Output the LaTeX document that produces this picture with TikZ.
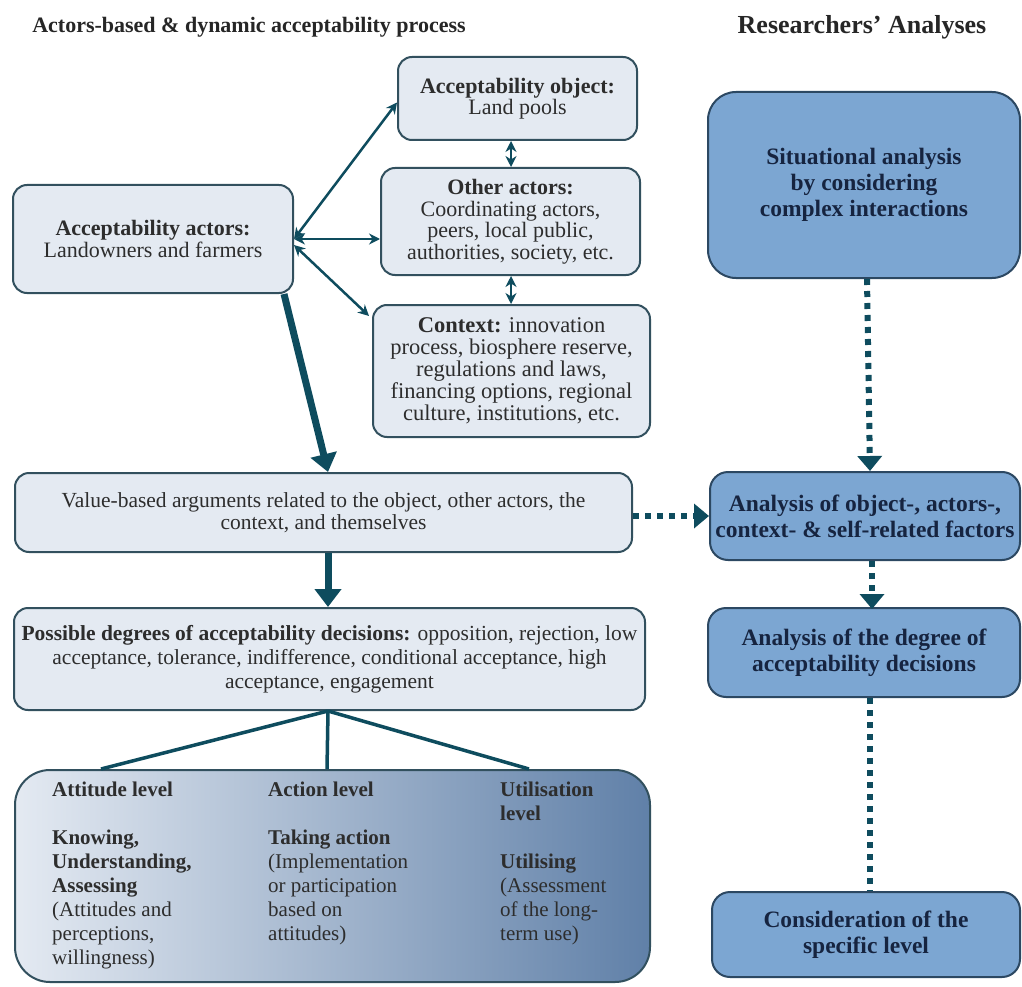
\documentclass[tikz,border=0pt]{standalone}
\usepackage{fontspec}
\setmainfont{Liberation Serif}
\usetikzlibrary{arrows.meta,calc}
\definecolor{lfill}{RGB}{228,234,242}
\definecolor{lborder}{RGB}{50,80,94}
\definecolor{arrowc}{RGB}{14,76,94}
\definecolor{rfill}{RGB}{124,166,210}
\definecolor{rborder}{RGB}{44,72,98}
\definecolor{rtext}{RGB}{22,36,64}
\definecolor{gleft}{RGB}{228,234,242}
\definecolor{gright}{RGB}{96,128,168}
\definecolor{textc}{RGB}{45,45,45}
\begin{document}
\begin{tikzpicture}[x=1pt,y=-1pt,
  lbox/.style={draw=lborder, line width=2pt, fill=lfill, rounded corners=14pt, inner sep=0pt, align=center, text=textc, font=\fontsize{22}{21.5}\selectfont},
  lwide/.style={lbox, font=\fontsize{21.5}{22.5}\selectfont},
  rbox/.style={draw=rborder, line width=2pt, fill=rfill, rounded corners=18pt, inner sep=0pt, align=center, text=rtext, font=\bfseries\fontsize{23.5}{26}\selectfont},
  titlestyle/.style={font=\bfseries\fontsize{22}{24}\selectfont, text=black!85, inner sep=0pt},
  coltext/.style={anchor=north west, inner sep=0pt, align=left, text=textc, font=\fontsize{21}{24}\selectfont},
  thinarr/.style={draw=arrowc, line width=2.5pt, {Stealth[length=11pt,width=11pt]}-{Stealth[length=11pt,width=11pt]}},
  thickarr/.style={draw=arrowc, line width=7pt, -{Triangle[length=18pt,width=26pt]}},
  branch/.style={draw=arrowc, line width=3.5pt},
  dotarr/.style={draw=arrowc, line width=6pt, dash pattern=on 6pt off 6pt, -{Triangle[length=15pt,width=24pt]}},
  dotline/.style={draw=arrowc, line width=6pt, dash pattern=on 6pt off 6pt}
]
\useasboundingbox (0,0) rectangle (1022,987);
\fill[white] (0,0) rectangle (1022,987);

% titles
\node[titlestyle] (t1) at (249,27) {Actors-based \& dynamic acceptability process};
\node[titlestyle, font=\bfseries\fontsize{26}{28}\selectfont] (t2) at (862,27) {Researchers’ Analyses};

% left column boxes
\node[lbox, minimum width=280pt, minimum height=108pt] (act) at (153,239)
  {\textbf{Acceptability actors:}\\Landowners and farmers};
\node[lbox, minimum width=239pt, minimum height=83pt] (obj) at (517.5,98.5)
  {\textbf{Acceptability object:}\\Land pools};
\node[lbox, minimum width=259pt, minimum height=107pt] (oth) at (510.5,221.5)
  {\textbf{Other actors:}\\Coordinating actors,\\peers, local public,\\authorities, society, etc.};
\node[lbox, minimum width=277pt, minimum height=132pt, font=\fontsize{22.5}{22}\selectfont] (ctx) at (511.5,371)
  {\textbf{Context:} innovation\\process, biosphere reserve,\\regulations and laws,\\financing options, regional\\culture, institutions, etc.};
\node[lwide, minimum width=617pt, minimum height=79pt] (val) at (323.5,512.5)
  {Value-based arguments related to the object, other actors, the\\context, and themselves};
\node[lwide, minimum width=631pt, minimum height=102pt, font=\fontsize{21.5}{24}\selectfont] (poss) at (329.5,659)
  {\textbf{Possible degrees of acceptability decisions:} opposition, rejection, low\\acceptance, tolerance, indifference, conditional acceptance, high\\acceptance, engagement};

% gradient box
\node[draw=lborder, line width=2pt, rounded corners=35pt, left color=gleft, right color=gright,
  minimum width=635pt, minimum height=212pt, inner sep=0pt] (grad) at (332.5,876) {};
\node[coltext] (c1) at (52,782)
  {\textbf{Attitude level}\\~\\\textbf{Knowing,}\\\textbf{Understanding,}\\\textbf{Assessing}\\(Attitudes and\\perceptions,\\willingness)};
\node[coltext] (c2) at (268,782)
  {\textbf{Action level}\\~\\\textbf{Taking action}\\(Implementation\\or participation\\based on\\attitudes)};
\node[coltext] (c3) at (500,782)
  {\textbf{Utilisation}\\\textbf{level}\\~\\\textbf{Utilising}\\(Assessment\\of the long-\\term use)};

% right column boxes
\node[rbox, rounded corners=28pt, minimum width=312pt, minimum height=186pt] (sit) at (864,185)
  {Situational analysis\\by considering\\complex interactions};
\node[rbox, minimum width=310pt, minimum height=88pt] (an1) at (865,516)
  {Analysis of object-, actors-,\\context- \& self-related factors};
\node[rbox, minimum width=312pt, minimum height=89pt] (an2) at (864,652.5)
  {Analysis of the degree of\\acceptability decisions};
\node[rbox, minimum width=308pt, minimum height=85pt] (cons) at (866,934.5)
  {Consideration of the\\specific level};

% thin double arrows
\draw[thinarr] (act.east) -- ($(obj.west)+(0,4)$);
\draw[thinarr] (act.east) -- (act.east -| oth.west);
\draw[thinarr] ($(act.east)+(0,6)$) -- ($(ctx.north west)+(-3,12)$);
\draw[thinarr] ($(obj.south)+(-6.5,0)$) -- ($(oth.north)+(0.5,0)$);
\draw[thinarr] ($(oth.south)+(0.5,0)$) -- ($(ctx.north)+(-0.5,0)$);

% thick arrows
\draw[thickarr] ($(act.south east)+(-10,0)$) -- ($(val.north)+(4.5,0)$);
\draw[thickarr] ($(val.south)+(4.5,0)$) -- ($(poss.north)+(-1.5,0)$);

% branches
\draw[branch] ($(poss.south)+(-1.5,0)$) -- ($(grad.north west)+(87,0)$);
\draw[branch] ($(poss.south)+(-1.5,0)$) -- ($(grad.north west)+(313,0)$);
\draw[branch] ($(poss.south)+(-1.5,0)$) -- ($(grad.north west)+(515,0)$);

% dotted connectors
\draw[dotarr] (val.east |- an1.west) -- (an1.west);
\draw[dotarr] ($(sit.south)+(3,0)$) -- ($(an1.north)+(5,0)$);
\draw[dotarr] ($(an1.south)+(7,0)$) -- ($(an1.south)+(7,48)$);
\draw[dotline] ($(an2.south)+(6,0)$) -- ($(cons.north)+(4,0)$);
\end{tikzpicture}
\end{document}
